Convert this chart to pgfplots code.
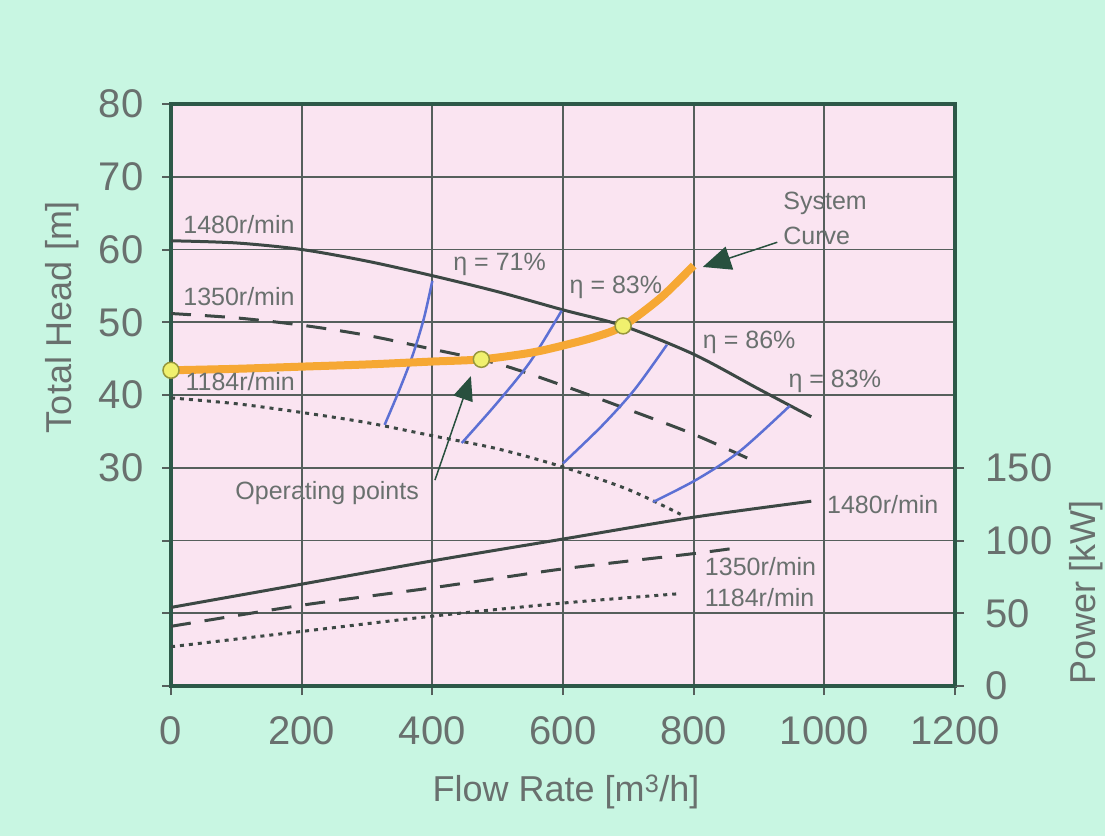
\documentclass[border=0pt]{standalone}
\usepackage{fontspec}
\setmainfont{Liberation Sans}
\usepackage{pgfplots}
\pgfplotsset{compat=1.18}
\usetikzlibrary{arrows.meta}
\definecolor{mint}{RGB}{200,246,226}
\definecolor{pinkbg}{RGB}{250,228,241}
\definecolor{gridc}{RGB}{85,95,92}
\definecolor{axc}{RGB}{45,88,72}
\definecolor{txt}{RGB}{105,112,110}
\definecolor{crv}{RGB}{60,72,68}
\definecolor{sysc}{RGB}{246,168,52}
\definecolor{effc}{RGB}{92,112,212}
\definecolor{opfill}{RGB}{240,240,110}
\definecolor{opdraw}{RGB}{150,150,60}
\definecolor{arrc}{RGB}{40,80,62}
\begin{document}
\begin{tikzpicture}
\path[use as bounding box, fill=mint] (0,0) rectangle (1105pt,836pt);
\begin{axis}[
  at={(171pt,150pt)}, anchor=south west,
  scale only axis, width=784pt, height=582pt,
  xmin=0, xmax=1200, ymin=0, ymax=80,
  axis background/.style={fill=pinkbg},
  xtick={0,200,...,1200}, xticklabels={0,200,400,600,800,1000,1200},
  ytick={0,10,...,80}, yticklabels={,,,30,40,50,60,70,80},
  xtick pos=left, ytick pos=left,
  grid=major, major grid style={gridc, line width=1.8pt},
  axis line style={axc, line width=4pt},
  tick align=outside, major tick length=9pt,
  tick style={gridc, line width=2pt},
  ticklabel style={font=\fontsize{40}{40}\selectfont, text=txt},
  xticklabel style={yshift=-18pt},
  yticklabel style={xshift=-15pt},
  /pgf/number format/assume math mode=true,
  clip=false,
]
% pump head curves
\addplot[crv, line width=3pt, smooth] coordinates {(0,61.2) (100,60.9) (200,60.0) (300,58.4) (400,56.4) (500,54.2) (600,51.7) (692,49.5) (800,45.6) (900,40.8) (980,37.0)};
\addplot[crv, line width=3pt, smooth, dash pattern=on 20pt off 14pt] coordinates {(0,51.2) (100,50.6) (200,49.6) (300,48.2) (400,46.3) (500,44.3) (600,41.3) (700,38.0) (800,34.6) (900,30.6)};
\addplot[crv, line width=3pt, smooth, dash pattern=on 4pt off 5pt] coordinates {(0,39.6) (100,38.8) (200,37.6) (300,36.2) (400,34.4) (500,32.6) (600,30.1) (700,27.0) (780,23.6)};
% efficiency curves
\addplot[effc, line width=2.5pt, smooth] coordinates {(327,35.9) (350,40.8) (370,45.5) (387,50.5) (400,55.7)};
\addplot[effc, line width=2.5pt, smooth] coordinates {(445,33.4) (500,39.0) (550,44.6) (598,51.6)};
\addplot[effc, line width=2.5pt, smooth] coordinates {(600,30.6) (660,35.8) (710,40.8) (759,46.9)};
\addplot[effc, line width=2.5pt, smooth] coordinates {(738,25.3) (805,28.4) (871,32.3) (947,38.5)};
% system curve
\addplot[sysc, line width=8pt, smooth] coordinates {(0,43.4) (100,43.6) (200,43.9) (300,44.2) (400,44.6) (475,44.9) (550,45.8) (600,46.8) (650,48.0) (692,49.5) (750,53.4) (800,57.8)};
% arrows
\draw[arrc, line width=1.5pt, -{Triangle[length=28pt,width=24pt]}] (axis cs:928,61.0) -- (axis cs:814,57.6);
\draw[arrc, line width=1.5pt, -{Triangle[length=24pt,width=20pt]}] (axis cs:404,28.3) -- (axis cs:459,42.6);
% operating points
\addplot[only marks, mark=*, mark size=8pt, mark options={fill=opfill, draw=opdraw, line width=1.5pt}] coordinates {(0,43.4) (475,44.9) (692,49.5)};
% annotations
\begin{scope}[every node/.style={font=\fontsize{25}{25}\selectfont, text=txt, inner sep=0pt}]
\node at (axis cs:104,63.4) {1480r/min};
\node at (axis cs:104,53.5) {1350r/min};
\node at (axis cs:106,41.9) {1184r/min};
\node at (axis cs:503,57.9) {η = 71\%};
\node at (axis cs:681,54.8) {η = 83\%};
\node at (axis cs:885,47.3) {η = 86\%};
\node at (axis cs:1016,41.9) {η = 83\%};
\node[anchor=west] at (axis cs:937,66.3) {System};
\node[anchor=west] at (axis cs:937,61.9) {Curve};
\node at (axis cs:239,26.5) {Operating points};
\node[anchor=west] at (axis cs:1004,24.9) {1480r/min};
\node[anchor=west] at (axis cs:817,16.4) {1350r/min};
\node[anchor=west] at (axis cs:817,12.2) {1184r/min};
\end{scope}
\end{axis}
\begin{axis}[
  at={(171pt,150pt)}, anchor=south west,
  scale only axis, width=784pt, height=582pt,
  xmin=0, xmax=1200, ymin=0, ymax=400,
  axis x line=none, axis y line*=right,
  ytick={0,50,100,150},
  axis line style={axc, line width=4pt},
  tick align=outside, major tick length=9pt,
  tick style={gridc, line width=2pt},
  ticklabel style={font=\fontsize{40}{40}\selectfont, text=txt},
  yticklabel style={xshift=18pt},
  /pgf/number format/assume math mode=true,
  clip=false,
]
\addplot[crv, line width=3pt, smooth] coordinates {(0,54) (200,70) (400,86) (600,101) (800,116) (980,127)};
\addplot[crv, line width=3pt, smooth, dash pattern=on 20pt off 14pt] coordinates {(0,41) (200,55.5) (400,67.5) (600,80.5) (800,91) (875,95.5)};
\addplot[crv, line width=3pt, smooth, dash pattern=on 4pt off 5pt] coordinates {(0,27) (200,37.5) (400,48) (600,57) (780,63.5)};
\end{axis}
\node[rotate=90, font=\fontsize{36}{36}\selectfont, text=txt] at (62pt,519pt) {Total Head [m]};
\node[rotate=90, font=\fontsize{36}{36}\selectfont, text=txt] at (1086pt,244pt) {Power [kW]};
\node[font=\fontsize{36}{36}\selectfont, text=txt] at (566pt,44pt) {Flow Rate [m\textsuperscript{3}/h]};
\end{tikzpicture}
\end{document}
